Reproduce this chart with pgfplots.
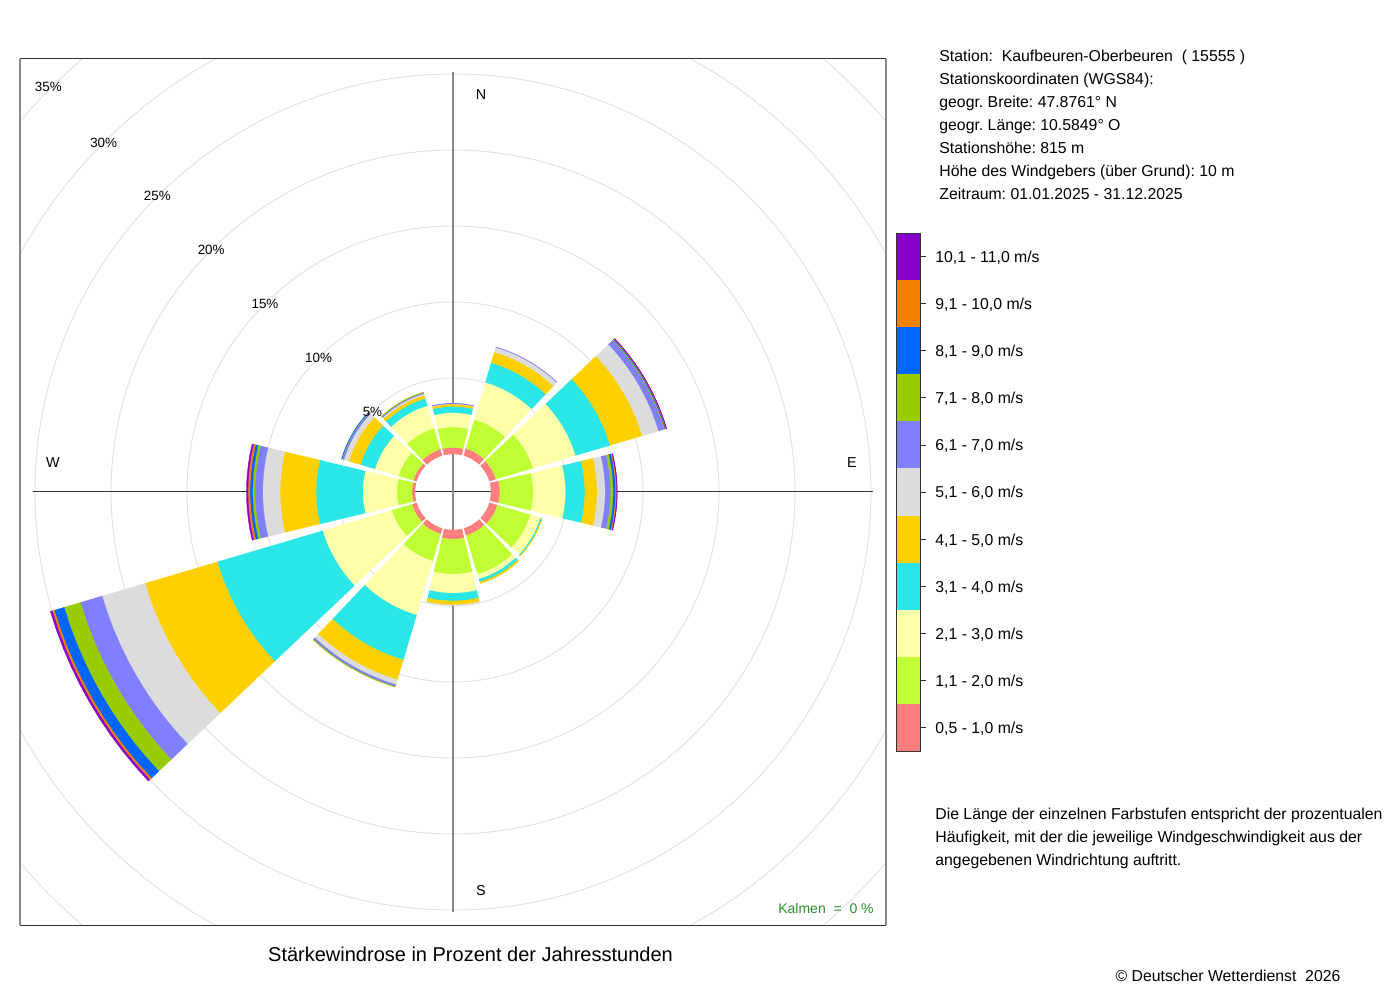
\documentclass[border=0pt]{standalone}
\usepackage{fontspec}
\setmainfont{Liberation Sans}
\usepackage{pgfplots}
\pgfplotsset{compat=1.18}
\frenchspacing

\definecolor{c1}{HTML}{FF7F7F}
\definecolor{c2}{HTML}{BFFF33}
\definecolor{c3}{HTML}{FFFFAA}
\definecolor{c4}{HTML}{2AE6E6}
\definecolor{c5}{HTML}{FFD000}
\definecolor{c6}{HTML}{DCDCDC}
\definecolor{c7}{HTML}{8080FF}
\definecolor{c8}{HTML}{99CC00}
\definecolor{c9}{HTML}{0066FF}
\definecolor{c10}{HTML}{F58000}
\definecolor{c11}{HTML}{8800CC}
\definecolor{gridc}{HTML}{E2E2E2}
\definecolor{hcol}{HTML}{333333}
\definecolor{vcol}{HTML}{888888}
\definecolor{kgreen}{HTML}{2E8B2E}

% one annular wedge: colour, centre angle (math deg), inner radius, outer radius
\newcommand\windwedge[4]{%
  \gdef\wpts{}%
  \foreach \k in {0,...,10} {\pgfmathsetmacro\wa{#2-13.5+2.7*\k}\xdef\wpts{\wpts (\wa,#3)}}%
  \foreach \k in {10,...,0} {\pgfmathsetmacro\wa{#2-13.5+2.7*\k}\xdef\wpts{\wpts (\wa,#4)}}%
  \edef\wtmp{\noexpand\addplot[fill=#1,draw=#1,line width=0.15pt,data cs=polar,forget plot] coordinates {\wpts};}%
  \wtmp
}
% one sector: compass direction, list of 11 class percentages
\newcommand\sector[2]{%
  \pgfmathsetmacro\secang{90-#1}%
  \xdef\rlow{2.5}%
  \foreach \v [count=\ci] in {#2} {%
    \pgfmathsetmacro\rhigh{\rlow+\v}%
    \ifdim \v pt>0pt
      \edef\doit{\noexpand\windwedge{c\ci}{\secang}{\rlow}{\rhigh}}\doit
    \fi
    \xdef\rlow{\rhigh}%
  }%
}

\begin{document}
\begin{tikzpicture}
\path[use as bounding box] (0pt,0pt) rectangle (700pt,500pt);
\begin{axis}[name=main, at={(10pt,37.5pt)}, anchor=south west,
  width=433pt, height=433pt, scale only axis,
  xmin=-28.487, xmax=28.487, ymin=-28.487, ymax=28.487,
  hide axis, clip=true]
% grid circles (5 % steps)
\draw[gridc, line width=0.5pt] (axis cs:0,0) circle[radius=57pt];
\draw[gridc, line width=0.5pt] (axis cs:0,0) circle[radius=95pt];
\draw[gridc, line width=0.5pt] (axis cs:0,0) circle[radius=133pt];
\draw[gridc, line width=0.5pt] (axis cs:0,0) circle[radius=171pt];
\draw[gridc, line width=0.5pt] (axis cs:0,0) circle[radius=209pt];
\draw[gridc, line width=0.5pt] (axis cs:0,0) circle[radius=247pt];
\draw[gridc, line width=0.5pt] (axis cs:0,0) circle[radius=285pt];
% cross
\draw[hcol, line width=0.5pt] (axis cs:-27.63,0) -- (axis cs:27.63,0);
\draw[vcol, line width=0.6pt] (axis cs:0,-27.63) -- (axis cs:0,27.63);
% data: percentages per speed class (0.5-1.0 ... 10.1-11.0 m/s)
\sector{0}{0.43,1.35,0.94,0.41,0.15,0.03,0.03,0,0,0,0}
\sector{30}{0.49,2.0,2.54,1.35,0.73,0.32,0.02,0,0,0,0}
\sector{60}{0.45,2.54,2.93,2.37,2.2,1.12,0.4,0.05,0.05,0.03,0.03}
\sector{90}{0.59,2.19,2.13,1.27,0.81,0.53,0.36,0.17,0.15,0.07,0.04}
\sector{120}{0.55,2.27,0.68,0.08,0.03,0,0,0,0,0,0}
\sector{150}{0.5,2.66,0.33,0.19,0.1,0,0,0,0,0,0}
\sector{180}{0.61,2.3,1.25,0.51,0.26,0.02,0,0,0,0,0}
\sector{210}{0.39,1.85,3.71,3.08,1.36,0.33,0.14,0.03,0,0,0}
\sector{240}{0.33,1.38,4.74,7.23,4.96,2.95,1.48,1.12,0.67,0.14,0.13}
\sector{270}{0.2,1.0,2.24,3.07,2.37,1.14,0.51,0.15,0.18,0.13,0.1}
\sector{300}{0.22,1.03,1.61,0.99,0.8,0.34,0.11,0.03,0.02,0,0}
\sector{330}{0.43,1.45,1.55,0.49,0.23,0.1,0.07,0.03,0,0,0}
% labels
\node[font=\fontsize{6.7}{8}\selectfont, inner sep=0pt] at (axis cs:-5.30,5.30) {5\%};
\node[font=\fontsize{6.7}{8}\selectfont, inner sep=0pt] at (axis cs:-8.84,8.84) {10\%};
\node[font=\fontsize{6.7}{8}\selectfont, inner sep=0pt] at (axis cs:-12.37,12.37) {15\%};
\node[font=\fontsize{6.7}{8}\selectfont, inner sep=0pt] at (axis cs:-15.91,15.91) {20\%};
\node[font=\fontsize{6.7}{8}\selectfont, inner sep=0pt] at (axis cs:-19.45,19.45) {25\%};
\node[font=\fontsize{6.7}{8}\selectfont, inner sep=0pt] at (axis cs:-22.98,22.98) {30\%};
\node[font=\fontsize{6.7}{8}\selectfont, inner sep=0pt] at (axis cs:-26.62,26.62) {35\%};
\node[font=\fontsize{7.2}{8}\selectfont, inner sep=0pt] at (axis cs:1.84,26.15) {N};
\node[font=\fontsize{7.2}{8}\selectfont, inner sep=0pt] at (axis cs:1.84,-26.25) {S};
\node[font=\fontsize{7.2}{8}\selectfont, inner sep=0pt] at (axis cs:-26.32,1.91) {W};
\node[font=\fontsize{7.2}{8}\selectfont, inner sep=0pt] at (axis cs:26.25,1.91) {E};
\node[font=\fontsize{7}{8}\selectfont, text=kgreen, inner sep=0pt] at (axis cs:24.54,-27.37) {Kalmen\ \ =\ \ 0 \%};
\end{axis}
% frame
\draw[hcol, line width=0.5pt] (main.north west) -- (main.north east);
\draw[hcol, line width=0.5pt] (main.south west) -- (main.south east);
\draw[vcol, line width=0.6pt] (main.south west) -- (main.north west);
\draw[vcol, line width=0.6pt] (main.south east) -- (main.north east);
% station info
\begin{scope}[every node/.style={anchor=base west, inner sep=0pt, font=\fontsize{7.9}{9.5}\selectfont}]
\node at (469.5pt,469.4pt) {Station:\ \ Kaufbeuren-Oberbeuren\ \ (\ 15555\ )};
\node at (469.5pt,457.9pt) {Stationskoordinaten (WGS84):};
\node at (469.5pt,446.4pt) {geogr. Breite: 47.8761° N};
\node at (469.5pt,434.6pt) {geogr. Länge: 10.5849° O};
\node at (469.5pt,423.0pt) {Stationshöhe: 815 m};
\node at (469.5pt,411.5pt) {Höhe des Windgebers (über Grund): 10 m};
\node at (469.5pt,400.0pt) {Zeitraum: 01.01.2025 - 31.12.2025};
% note
\node at (467.5pt,90.0pt) {Die Länge der einzelnen Farbstufen entspricht der prozentualen};
\node at (467.5pt,78.5pt) {Häufigkeit, mit der die jeweilige Windgeschwindigkeit aus der};
\node at (467.5pt,67.0pt) {angegebenen Windrichtung auftritt.};
\end{scope}
% legend bar
\foreach \i in {1,...,11} {
  \fill[c\i] (448pt,{124.5pt+(\i-1)*23.545pt}) rectangle (460pt,{124.5pt+\i*23.545pt});
  \draw[hcol, line width=0.4pt] (460pt,{124.5pt+(\i-0.5)*23.545pt}) -- (463pt,{124.5pt+(\i-0.5)*23.545pt});
}
\draw[hcol, line width=0.4pt] (448pt,124.5pt) rectangle (460pt,383.5pt);
\foreach \lab [count=\i] in {{0,5 - 1,0 m/s},{1,1 - 2,0 m/s},{2,1 - 3,0 m/s},{3,1 - 4,0 m/s},{4,1 - 5,0 m/s},{5,1 - 6,0 m/s},{6,1 - 7,0 m/s},{7,1 - 8,0 m/s},{8,1 - 9,0 m/s},{9,1 - 10,0 m/s},{10,1 - 11,0 m/s}} {
  \node[anchor=base west, inner sep=0pt, font=\fontsize{7.9}{9.5}\selectfont] at (467.5pt,{124.5pt+(\i-0.5)*23.545pt-3.0pt}) {\lab};
}
% title and credit
\node[anchor=base, inner sep=0pt, font=\fontsize{10}{12}\selectfont] at (235.25pt,19.4pt) {Stärkewindrose in Prozent der Jahresstunden};
\node[anchor=base, inner sep=0pt, font=\fontsize{7.9}{9.5}\selectfont] at (614pt,9.15pt) {© Deutscher Wetterdienst\ \ 2026};
\end{tikzpicture}
\end{document}
